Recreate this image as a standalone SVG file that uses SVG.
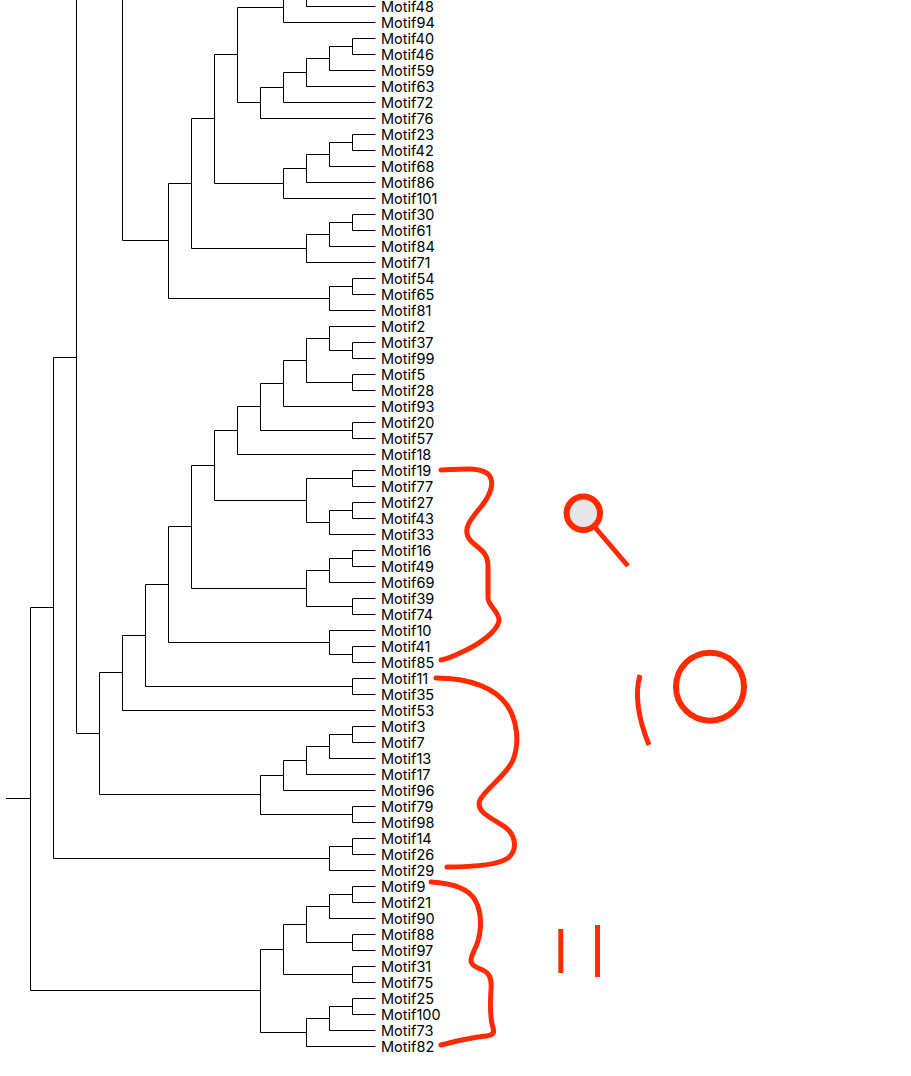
<svg xmlns="http://www.w3.org/2000/svg" width="911" height="1076" viewBox="0 0 911 1076">
<style>
.t{font-family:Inter,"Liberation Sans",Arial,sans-serif;font-size:14.5px;fill:#000}
.e{fill:none;stroke:#000;stroke-width:1}
.r{fill:none;stroke:#ff2a00;stroke-width:5;stroke-linecap:round;stroke-linejoin:round}
</style>
<rect width="911" height="1076" fill="#fff"/>
<g id="connectors">
<path class="e" d="M306.5,-23.5 V6.5 H375.5"/>
<path class="e" d="M306.5,-7.5 H283.5 V22.5 H375.5"/>
<path class="e" d="M375.5,38.5 H352.5 V54.5 H375.5"/>
<path class="e" d="M352.5,46.5 H329.5 V70.5 H375.5"/>
<path class="e" d="M329.5,58.5 H306.5 V86.5 H375.5"/>
<path class="e" d="M306.5,72.5 H283.5 V102.5 H375.5"/>
<path class="e" d="M283.5,87.5 H260.5 V118.5 H375.5"/>
<path class="e" d="M283.5,7.5 H237.5 V102.5 H260.5"/>
<path class="e" d="M375.5,134.5 H352.5 V150.5 H375.5"/>
<path class="e" d="M352.5,142.5 H329.5 V166.5 H375.5"/>
<path class="e" d="M329.5,154.5 H306.5 V182.5 H375.5"/>
<path class="e" d="M306.5,168.5 H283.5 V198.5 H375.5"/>
<path class="e" d="M237.5,54.5 H214.5 V183.5 H283.5"/>
<path class="e" d="M375.5,214.5 H352.5 V230.5 H375.5"/>
<path class="e" d="M352.5,222.5 H329.5 V246.5 H375.5"/>
<path class="e" d="M329.5,234.5 H306.5 V262.5 H375.5"/>
<path class="e" d="M214.5,118.5 H191.5 V248.5 H306.5"/>
<path class="e" d="M375.5,278.5 H352.5 V294.5 H375.5"/>
<path class="e" d="M352.5,286.5 H329.5 V310.5 H375.5"/>
<path class="e" d="M191.5,183.5 H168.5 V298.5 H329.5"/>
<path class="e" d="M122.5,-280 V240.5 H168.5"/>
<path class="e" d="M122.5,-19.5 H76.5 V733.5 H99.5"/>
<path class="e" d="M76.5,357.5 H53.5 V858.5 H329.5"/>
<path class="e" d="M53.5,607.5 H30.5 V990.5 H260.5"/>
<path class="e" d="M6,798.5 H30.5"/>
<path class="e" d="M375.5,342.5 H352.5 V358.5 H375.5"/>
<path class="e" d="M375.5,326.5 H329.5 V350.5 H352.5"/>
<path class="e" d="M375.5,374.5 H352.5 V390.5 H375.5"/>
<path class="e" d="M329.5,338.5 H306.5 V382.5 H352.5"/>
<path class="e" d="M306.5,360.5 H283.5 V406.5 H375.5"/>
<path class="e" d="M375.5,422.5 H352.5 V438.5 H375.5"/>
<path class="e" d="M283.5,383.5 H260.5 V430.5 H352.5"/>
<path class="e" d="M260.5,406.5 H237.5 V454.5 H375.5"/>
<path class="e" d="M375.5,470.5 H352.5 V486.5 H375.5"/>
<path class="e" d="M375.5,502.5 H352.5 V518.5 H375.5"/>
<path class="e" d="M352.5,510.5 H329.5 V534.5 H375.5"/>
<path class="e" d="M352.5,478.5 H306.5 V522.5 H329.5"/>
<path class="e" d="M237.5,430.5 H214.5 V500.5 H306.5"/>
<path class="e" d="M375.5,550.5 H352.5 V566.5 H375.5"/>
<path class="e" d="M352.5,558.5 H329.5 V582.5 H375.5"/>
<path class="e" d="M375.5,598.5 H352.5 V614.5 H375.5"/>
<path class="e" d="M329.5,570.5 H306.5 V606.5 H352.5"/>
<path class="e" d="M214.5,465.5 H191.5 V588.5 H306.5"/>
<path class="e" d="M375.5,646.5 H352.5 V662.5 H375.5"/>
<path class="e" d="M375.5,630.5 H329.5 V654.5 H352.5"/>
<path class="e" d="M191.5,526.5 H168.5 V642.5 H329.5"/>
<path class="e" d="M375.5,678.5 H352.5 V694.5 H375.5"/>
<path class="e" d="M168.5,584.5 H145.5 V686.5 H352.5"/>
<path class="e" d="M145.5,635.5 H122.5 V710.5 H375.5"/>
<path class="e" d="M375.5,726.5 H352.5 V742.5 H375.5"/>
<path class="e" d="M352.5,734.5 H329.5 V758.5 H375.5"/>
<path class="e" d="M329.5,746.5 H306.5 V774.5 H375.5"/>
<path class="e" d="M306.5,760.5 H283.5 V790.5 H375.5"/>
<path class="e" d="M375.5,806.5 H352.5 V822.5 H375.5"/>
<path class="e" d="M283.5,775.5 H260.5 V814.5 H352.5"/>
<path class="e" d="M122.5,672.5 H99.5 V794.5 H260.5"/>
<path class="e" d="M375.5,838.5 H352.5 V854.5 H375.5"/>
<path class="e" d="M352.5,846.5 H329.5 V870.5 H375.5"/>
<path class="e" d="M375.5,886.5 H352.5 V902.5 H375.5"/>
<path class="e" d="M352.5,894.5 H329.5 V918.5 H375.5"/>
<path class="e" d="M375.5,934.5 H352.5 V950.5 H375.5"/>
<path class="e" d="M329.5,906.5 H306.5 V942.5 H352.5"/>
<path class="e" d="M375.5,966.5 H352.5 V982.5 H375.5"/>
<path class="e" d="M306.5,924.5 H283.5 V974.5 H352.5"/>
<path class="e" d="M375.5,998.5 H352.5 V1014.5 H375.5"/>
<path class="e" d="M352.5,1006.5 H329.5 V1030.5 H375.5"/>
<path class="e" d="M329.5,1018.5 H306.5 V1046.5 H375.5"/>
<path class="e" d="M283.5,949.5 H260.5 V1032.5 H306.5"/>
</g>
<g id="leaf-Motif48"><text class="t" x="381" y="11.5">Motif48</text></g>
<g id="leaf-Motif94"><text class="t" x="381" y="27.5">Motif94</text></g>
<g id="leaf-Motif40"><text class="t" x="381" y="43.5">Motif40</text></g>
<g id="leaf-Motif46"><text class="t" x="381" y="59.5">Motif46</text></g>
<g id="leaf-Motif59"><text class="t" x="381" y="75.5">Motif59</text></g>
<g id="leaf-Motif63"><text class="t" x="381" y="91.5">Motif63</text></g>
<g id="leaf-Motif72"><text class="t" x="381" y="107.5">Motif72</text></g>
<g id="leaf-Motif76"><text class="t" x="381" y="123.5">Motif76</text></g>
<g id="leaf-Motif23"><text class="t" x="381" y="139.5">Motif23</text></g>
<g id="leaf-Motif42"><text class="t" x="381" y="155.5">Motif42</text></g>
<g id="leaf-Motif68"><text class="t" x="381" y="171.5">Motif68</text></g>
<g id="leaf-Motif86"><text class="t" x="381" y="187.5">Motif86</text></g>
<g id="leaf-Motif101"><text class="t" x="381" y="203.5">Motif101</text></g>
<g id="leaf-Motif30"><text class="t" x="381" y="219.5">Motif30</text></g>
<g id="leaf-Motif61"><text class="t" x="381" y="235.5">Motif61</text></g>
<g id="leaf-Motif84"><text class="t" x="381" y="251.5">Motif84</text></g>
<g id="leaf-Motif71"><text class="t" x="381" y="267.5">Motif71</text></g>
<g id="leaf-Motif54"><text class="t" x="381" y="283.5">Motif54</text></g>
<g id="leaf-Motif65"><text class="t" x="381" y="299.5">Motif65</text></g>
<g id="leaf-Motif81"><text class="t" x="381" y="315.5">Motif81</text></g>
<g id="leaf-Motif2"><text class="t" x="381" y="331.5">Motif2</text></g>
<g id="leaf-Motif37"><text class="t" x="381" y="347.5">Motif37</text></g>
<g id="leaf-Motif99"><text class="t" x="381" y="363.5">Motif99</text></g>
<g id="leaf-Motif5"><text class="t" x="381" y="379.5">Motif5</text></g>
<g id="leaf-Motif28"><text class="t" x="381" y="395.5">Motif28</text></g>
<g id="leaf-Motif93"><text class="t" x="381" y="411.5">Motif93</text></g>
<g id="leaf-Motif20"><text class="t" x="381" y="427.5">Motif20</text></g>
<g id="leaf-Motif57"><text class="t" x="381" y="443.5">Motif57</text></g>
<g id="leaf-Motif18"><text class="t" x="381" y="459.5">Motif18</text></g>
<g id="leaf-Motif19"><text class="t" x="381" y="475.5">Motif19</text></g>
<g id="leaf-Motif77"><text class="t" x="381" y="491.5">Motif77</text></g>
<g id="leaf-Motif27"><text class="t" x="381" y="507.5">Motif27</text></g>
<g id="leaf-Motif43"><text class="t" x="381" y="523.5">Motif43</text></g>
<g id="leaf-Motif33"><text class="t" x="381" y="539.5">Motif33</text></g>
<g id="leaf-Motif16"><text class="t" x="381" y="555.5">Motif16</text></g>
<g id="leaf-Motif49"><text class="t" x="381" y="571.5">Motif49</text></g>
<g id="leaf-Motif69"><text class="t" x="381" y="587.5">Motif69</text></g>
<g id="leaf-Motif39"><text class="t" x="381" y="603.5">Motif39</text></g>
<g id="leaf-Motif74"><text class="t" x="381" y="619.5">Motif74</text></g>
<g id="leaf-Motif10"><text class="t" x="381" y="635.5">Motif10</text></g>
<g id="leaf-Motif41"><text class="t" x="381" y="651.5">Motif41</text></g>
<g id="leaf-Motif85"><text class="t" x="381" y="667.5">Motif85</text></g>
<g id="leaf-Motif11"><text class="t" x="381" y="683.5">Motif11</text></g>
<g id="leaf-Motif35"><text class="t" x="381" y="699.5">Motif35</text></g>
<g id="leaf-Motif53"><text class="t" x="381" y="715.5">Motif53</text></g>
<g id="leaf-Motif3"><text class="t" x="381" y="731.5">Motif3</text></g>
<g id="leaf-Motif7"><text class="t" x="381" y="747.5">Motif7</text></g>
<g id="leaf-Motif13"><text class="t" x="381" y="763.5">Motif13</text></g>
<g id="leaf-Motif17"><text class="t" x="381" y="779.5">Motif17</text></g>
<g id="leaf-Motif96"><text class="t" x="381" y="795.5">Motif96</text></g>
<g id="leaf-Motif79"><text class="t" x="381" y="811.5">Motif79</text></g>
<g id="leaf-Motif98"><text class="t" x="381" y="827.5">Motif98</text></g>
<g id="leaf-Motif14"><text class="t" x="381" y="843.5">Motif14</text></g>
<g id="leaf-Motif26"><text class="t" x="381" y="859.5">Motif26</text></g>
<g id="leaf-Motif29"><text class="t" x="381" y="875.5">Motif29</text></g>
<g id="leaf-Motif9"><text class="t" x="381" y="891.5">Motif9</text></g>
<g id="leaf-Motif21"><text class="t" x="381" y="907.5">Motif21</text></g>
<g id="leaf-Motif90"><text class="t" x="381" y="923.5">Motif90</text></g>
<g id="leaf-Motif88"><text class="t" x="381" y="939.5">Motif88</text></g>
<g id="leaf-Motif97"><text class="t" x="381" y="955.5">Motif97</text></g>
<g id="leaf-Motif31"><text class="t" x="381" y="971.5">Motif31</text></g>
<g id="leaf-Motif75"><text class="t" x="381" y="987.5">Motif75</text></g>
<g id="leaf-Motif25"><text class="t" x="381" y="1003.5">Motif25</text></g>
<g id="leaf-Motif100"><text class="t" x="381" y="1019.5">Motif100</text></g>
<g id="leaf-Motif73"><text class="t" x="381" y="1035.5">Motif73</text></g>
<g id="leaf-Motif82"><text class="t" x="381" y="1051.5">Motif82</text></g>
<g id="annotations">
<path class="r" d="M441,470 C465,469 480,467 488,474 C496,482 490,496 480,508 C470,520 462,530 470,540 C478,549 488,551 488,566 L488,598 C488,606 500,612 499,621 C497,632 478,645 462,652 C452,657 446,659 441,660"/>
<path class="r" d="M436,678 C470,678 495,688 507,705 C517,720 520,742 513,760 C506,776 486,788 480,800 C475,812 492,818 505,827 C516,835 518,850 508,858 C498,865 470,867 447,867"/>
<path class="r" d="M431,882 C450,883 468,888 475,900 C482,912 482,930 477,944 C472,956 466,963 478,968 C490,972 492,978 491,990 C490,1005 490,1018 493,1028 C496,1036 488,1036 478,1037 C465,1039 452,1042 441,1045"/>
<circle cx="583.3" cy="513.3" r="16.7" fill="#e6e6e6" stroke="#ff2a00" stroke-width="6"/>
<path class="r" d="M593,525 L628,566" style="stroke-linecap:butt"/>
<path class="r" d="M640,675 Q632,703 649,745" style="stroke-linecap:butt"/>
<circle cx="710" cy="686.7" r="34" fill="none" stroke="#ff2a00" stroke-width="6"/>
<path class="r" d="M560.8,929 V973 M597.5,925 V977" style="stroke-linecap:butt"/>
</g>
</svg>
